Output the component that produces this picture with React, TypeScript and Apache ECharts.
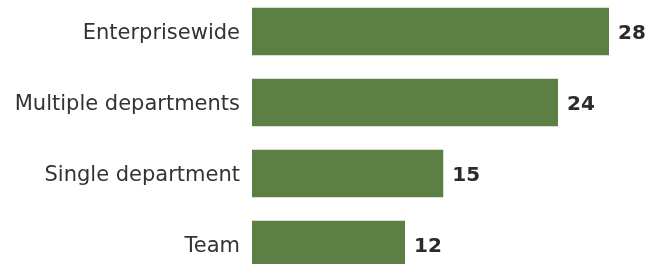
import React, { useEffect, useRef } from "react";
import * as echarts from "echarts";

const categories = ["Enterprisewide", "Multiple departments", "Single department", "Team"];
const values = [28, 24, 15, 12];

export default function App() {
  const ref = useRef<HTMLDivElement>(null);
  useEffect(() => {
    if (!ref.current) return;
    const chart = echarts.init(ref.current, null, { renderer: "svg" });
    chart.setOption({
      animation: false,
      grid: { left: 252, width: 357, top: 0, bottom: 0, containLabel: false },
      xAxis: { type: "value", min: 0, max: 28, show: false },
      yAxis: {
        type: "category",
        data: categories,
        inverse: true,
        axisLine: { show: false },
        axisTick: { show: false },
        splitLine: { show: false },
        axisLabel: {
          margin: 12,
          color: "#333333",
          fontFamily: "DejaVu Sans",
          fontSize: 21,
        },
      },
      series: [
        {
          type: "bar",
          data: values,
          barCategoryGap: "33%",
          itemStyle: { color: "#5c7f43" },
          label: {
            show: true,
            position: "right",
            distance: 9,
            color: "#2b2b2b",
            fontFamily: "DejaVu Sans",
            fontWeight: "bold",
            fontSize: 20,
          },
        },
      ],
    });
    return () => chart.dispose();
  }, []);
  return (
    <div
      ref={ref}
      style={{ position: "fixed", left: 0, top: -4, width: 647, height: 284 }}
    />
  );
}
